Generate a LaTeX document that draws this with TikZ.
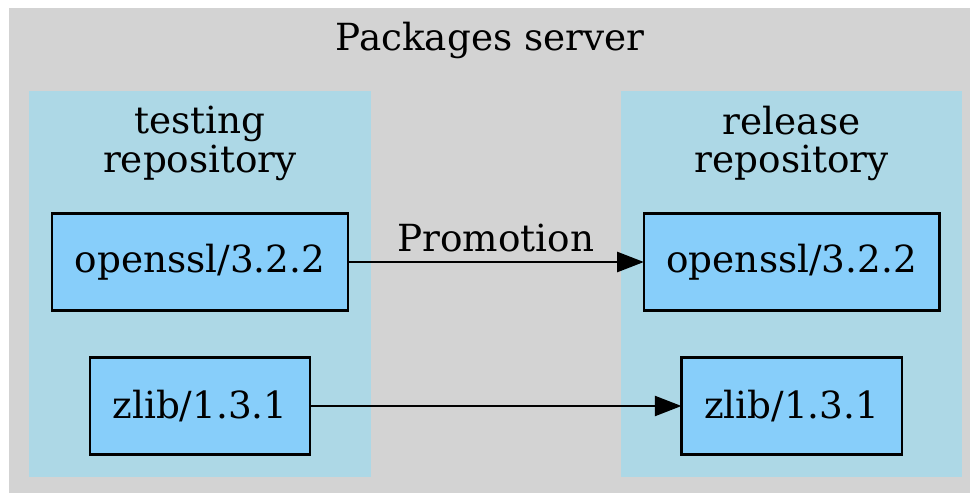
\documentclass[tikz,border=0pt]{standalone}
\usepackage{fontspec}
\setmainfont{DejaVu Serif}
\usetikzlibrary{arrows.meta, positioning, fit, backgrounds}

\definecolor{serverbg}{HTML}{D3D3D3}
\definecolor{repobg}{HTML}{ADD8E6}
\definecolor{pkgfill}{HTML}{87CEFA}

\begin{document}
\begin{tikzpicture}[
  x=0.75pt, y=-0.75pt,
  node distance=35.25pt and 222pt,
  font=\fontsize{28}{29}\selectfont,
  pkgbox/.style={rectangle, draw=black, line width=1.8pt, fill=pkgfill,
                 minimum height=72.75pt, inner xsep=17pt, outer sep=0pt},
  repobox/.style={rectangle, fill=repobg, inner sep=17pt},
  repotitle/.style={align=center, inner sep=0pt},
  arrow/.style={-{Triangle[length=20pt, width=15pt]}, line width=1.8pt}
]
\useasboundingbox (0,0) rectangle (970,493);

% packages
\node[pkgbox] (tOpenssl) at (200,262) {openssl/3.2.2};
\node[pkgbox, below=of tOpenssl] (tZlib) {zlib/1.3.1};
\node[pkgbox, right=of tOpenssl] (rOpenssl) {openssl/3.2.2};
\node[pkgbox, below=of rOpenssl] (rZlib) {zlib/1.3.1};

% repository titles
\node[repotitle] (tTitle) at ([yshift=52.5pt]tOpenssl.north) {testing\\repository};
\node[repotitle] (rTitle) at ([yshift=52.5pt]rOpenssl.north) {release\\repository};
\coordinate (tTop) at ([yshift=75.25pt]tOpenssl.north);
\coordinate (rTop) at ([yshift=75.25pt]rOpenssl.north);

\node[inner sep=0pt] (srvTitle) at (490,40) {Packages server};

\begin{scope}[on background layer]
  \fill[serverbg] (9,8) rectangle (970,493);
  \node[repobox, fit=(tTop)(tOpenssl)(tZlib)] (tRepo) {};
  \node[repobox, fit=(rTop)(rOpenssl)(rZlib)] (rRepo) {};
\end{scope}

\draw[arrow] (tOpenssl.east) -- node[above=6.75pt, inner sep=0pt] {Promotion} (rOpenssl.west);
\draw[arrow] (tZlib.east) -- (rZlib.west);

\end{tikzpicture}
\end{document}
